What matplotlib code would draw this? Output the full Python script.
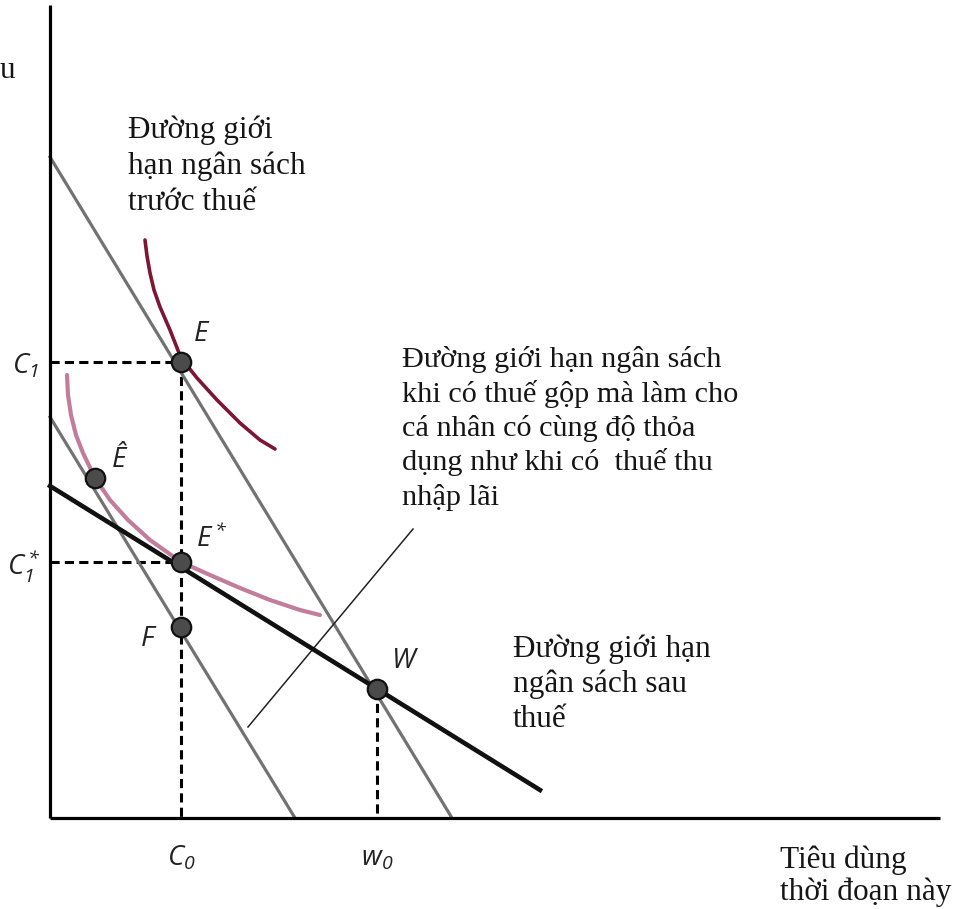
import matplotlib
matplotlib.use('Agg')
import matplotlib.pyplot as plt

# toạ độ tính bằng pixel, gốc ở góc trục (trái-dưới)
truc_x_max = 890
truc_y_max = 813

# đường ngân sách: [cắt trục tung, cắt trục hoành]
ns_truoc_thue = [661, 402]
ns_thue_gop = [401, 245]
# đường ngân sách sau thuế: hai đầu mút
ns_sau_thue_x = [0, 490]
ns_sau_thue_y = [332, 28]

# hai đường bàng quan
bq_cao_x = [95, 97, 100, 104, 110, 120, 131, 147, 167, 190, 210, 225]
bq_cao_y = [578, 562, 545, 528, 511, 488, 460, 440, 418, 395, 378, 369]
bq_thap_x = [17, 18, 21, 26, 33, 45, 60, 78, 100, 131, 160, 190, 220, 250, 270]
bq_thap_y = [443, 423, 403, 383, 365, 340, 318, 298, 278, 256, 243, 230, 218, 208, 203]

diem_x = [131, 45, 131, 131, 327]
diem_y = [456, 340, 256, 191, 129]

C0 = 131
w0 = 327
C1 = 456
C1_sao = 256

# đường chỉ dẫn tới chú thích
chi_dan_x = [198, 363]
chi_dan_y = [91, 289]

khoi_truoc_thue = ['Đường giới', 'hạn ngân sách', 'trước thuế']
khoi_thue_gop = ['Đường giới hạn ngân sách', 'khi có thuế gộp mà làm cho',
                 'cá nhân có cùng độ thỏa', 'dụng như khi có  thuế thu', 'nhập lãi']
khoi_sau_thue = ['Đường giới hạn', 'ngân sách sau', 'thuế']
khoi_truc_x = ['Tiêu dùng', 'thời đoạn này']

fig = plt.figure(figsize=(9.57, 9.09), dpi=100)
ax = fig.add_axes([0, 0, 1, 1])
ax.set_xlim(-50, 907)
ax.set_ylim(-91, 818)
ax.axis('off')

# trục
ax.plot([0, 0], [0, truc_y_max], color='black', lw=2.3, solid_capstyle='butt', zorder=3)
ax.plot([0, truc_x_max], [0, 0], color='black', lw=2.3, solid_capstyle='butt', zorder=3)

# đường ngân sách
xam = '#727272'
ax.plot([0, ns_truoc_thue[1]], [ns_truoc_thue[0], 0], color=xam, lw=2.3, zorder=2)
ax.plot([0, ns_thue_gop[1]], [ns_thue_gop[0], 0], color=xam, lw=2.3, zorder=2)
ax.plot(ns_sau_thue_x, ns_sau_thue_y, color='#111111', lw=3.3, zorder=3)

# đường bàng quan
ax.plot(bq_cao_x, bq_cao_y, color='#7d1535', lw=2.6, zorder=2,
        solid_capstyle='round', solid_joinstyle='round')
ax.plot(bq_thap_x, bq_thap_y, color='#c27d9c', lw=3.0, zorder=2,
        solid_capstyle='round', solid_joinstyle='round')

# đường gióng nét đứt
net_dut = dict(color='black', lw=2.2, ls=(0, (3, 1.7)), zorder=1)
ax.plot([0, C0], [C1, C1], **net_dut)
ax.plot([C0, C0], [C1, 0], **net_dut)
ax.plot([0, C0], [C1_sao, C1_sao], **net_dut)
ax.plot([w0, w0], [diem_y[4], 0], **net_dut)

ax.plot(chi_dan_x, chi_dan_y, color='#222222', lw=1.1, zorder=2)

ax.plot(diem_x, diem_y, 'o', ms=14, mfc='#4b4b4b', mec='#111111', mew=1.6, zorder=5)

# nhãn điểm
nhan = dict(family='Open Sans', style='italic', fontsize=20, color='#222222',
            ha='center', va='center')
ax.text(151, 484, 'E', **nhan)
ax.text(69, 358, 'Ê', **nhan)
ax.text(162, 279, r'$\mathregular{E^*}$', **nhan)
ax.text(97, 179, 'F', **nhan)
ax.text(354, 157, 'W', **nhan)
ax.text(-24, 452, r'$\mathregular{C_1}$', **nhan)
ax.text(-26, 252, r'$\mathregular{C_1^*}$', **nhan)
ax.text(131, -40, r'$\mathregular{C_0}$', **nhan)
ax.text(327, -40, r'$\mathregular{w_0}$', **nhan)

# chú thích
chu = dict(family=['Liberation Serif', 'DejaVu Serif'], fontsize=22.5, color='#151515',
           ha='left', va='baseline')
for i, dong in enumerate(khoi_truoc_thue):
    ax.text(78, 680 - i * 36, dong, **chu)
for i, dong in enumerate(khoi_thue_gop):
    ax.text(352, 451 - i * 34.5, dong, **{**chu, 'fontsize': 21.8})
for i, dong in enumerate(khoi_sau_thue):
    ax.text(463, 161 - i * 35, dong, **chu)
for i, dong in enumerate(khoi_truc_x):
    ax.text(730, -50 - i * 32, dong, **chu)
ax.text(-50, 740, 'u', **chu)

fig.savefig('out.png', dpi=100)
